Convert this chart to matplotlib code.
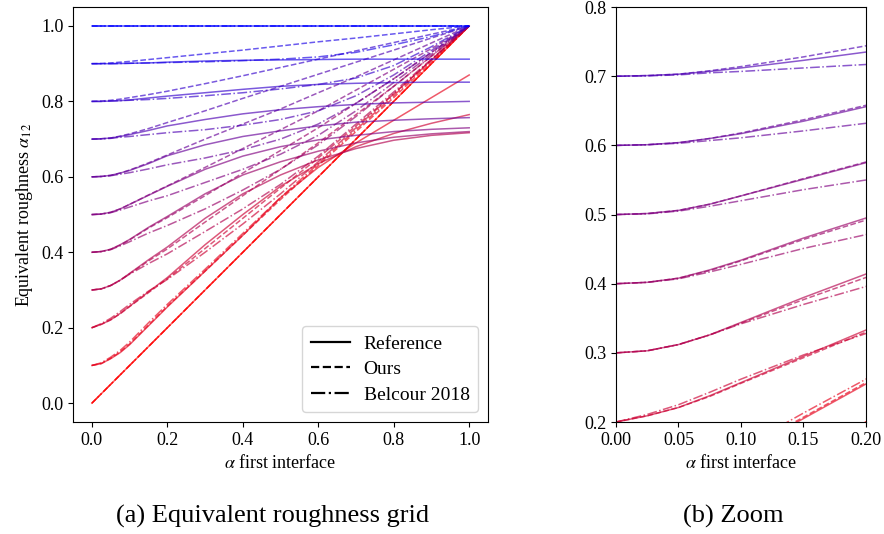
import matplotlib
matplotlib.use("Agg")
import matplotlib.pyplot as plt
import numpy as np

plt.rcParams['font.family'] = ['Liberation Serif', 'DejaVu Serif']
plt.rcParams['mathtext.fontset'] = 'stix'
plt.rcParams['font.size'] = 13

# roughness of the second interface (one curve per value)
alpha2 = [0.0, 0.1, 0.2, 0.3, 0.4, 0.5, 0.6, 0.7, 0.8, 0.9, 1.0]
# alpha of the first interface, where the curves were read
alpha1 = [0.0, 0.025, 0.05, 0.075, 0.1, 0.15, 0.2, 0.3, 0.4, 0.5, 0.6, 0.7, 0.8, 0.9, 1.0]

# Reference (solid)
reference = [
    [0.0, 0.025, 0.05, 0.075, 0.1, 0.15, 0.2, 0.3, 0.4, 0.5, 0.6, 0.7, 0.8, 0.9, 1.0],
    [0.1, 0.105, 0.118, 0.134, 0.155, 0.205, 0.255, 0.35, 0.445, 0.545, 0.625, 0.69, 0.75, 0.81, 0.87],
    [0.2, 0.209, 0.221, 0.238, 0.257, 0.295, 0.333, 0.42, 0.50, 0.575, 0.635, 0.68, 0.715, 0.742, 0.765],
    [0.3, 0.303, 0.312, 0.326, 0.344, 0.38, 0.414, 0.49, 0.555, 0.605, 0.645, 0.675, 0.697, 0.71, 0.717],
    [0.4, 0.402, 0.408, 0.42, 0.434, 0.466, 0.495, 0.555, 0.605, 0.64, 0.668, 0.69, 0.705, 0.714, 0.72],
    [0.5, 0.5015, 0.506, 0.515, 0.527, 0.551, 0.575, 0.62, 0.655, 0.68, 0.698, 0.71, 0.72, 0.726, 0.73],
    [0.6, 0.601, 0.604, 0.61, 0.617, 0.635, 0.656, 0.685, 0.707, 0.722, 0.735, 0.745, 0.75, 0.754, 0.757],
    [0.7, 0.701, 0.703, 0.707, 0.712, 0.723, 0.735, 0.752, 0.767, 0.778, 0.786, 0.792, 0.796, 0.798, 0.8],
    [0.8, 0.8, 0.801, 0.802, 0.804, 0.809, 0.814, 0.823, 0.832, 0.84, 0.845, 0.848, 0.85, 0.851, 0.851],
    [0.9, 0.9, 0.9, 0.9005, 0.901, 0.902, 0.904, 0.907, 0.909, 0.91, 0.911, 0.912, 0.912, 0.912, 0.912],
    [1.0, 1.0, 1.0, 1.0, 1.0, 1.0, 1.0, 1.0, 1.0, 1.0, 1.0, 1.0, 1.0, 1.0, 1.0],
]

# Ours (dashed)
ours = [
    [0.0, 0.025, 0.05, 0.075, 0.1, 0.15, 0.2, 0.3, 0.4, 0.5, 0.6, 0.7, 0.8, 0.9, 1.0],
    [0.1, 0.105, 0.119, 0.136, 0.157, 0.207, 0.257, 0.35, 0.445, 0.54, 0.63, 0.72, 0.81, 0.905, 1.0],
    [0.2, 0.209, 0.221, 0.237, 0.256, 0.293, 0.330, 0.41, 0.49, 0.57, 0.65, 0.735, 0.82, 0.91, 1.0],
    [0.3, 0.303, 0.312, 0.326, 0.343, 0.377, 0.409, 0.48, 0.55, 0.62, 0.69, 0.765, 0.84, 0.92, 1.0],
    [0.4, 0.402, 0.408, 0.419, 0.433, 0.464, 0.492, 0.55, 0.61, 0.67, 0.73, 0.795, 0.86, 0.93, 1.0],
    [0.5, 0.5015, 0.506, 0.515, 0.527, 0.552, 0.576, 0.625, 0.675, 0.725, 0.775, 0.83, 0.885, 0.94, 1.0],
    [0.6, 0.601, 0.604, 0.61, 0.618, 0.637, 0.658, 0.70, 0.74, 0.78, 0.823, 0.865, 0.91, 0.955, 1.0],
    [0.7, 0.701, 0.703, 0.708, 0.714, 0.728, 0.744, 0.775, 0.808, 0.84, 0.872, 0.904, 0.936, 0.968, 1.0],
    [0.8, 0.801, 0.803, 0.806, 0.81, 0.818, 0.827, 0.847, 0.868, 0.89, 0.912, 0.934, 0.956, 0.978, 1.0],
    [0.9, 0.9005, 0.902, 0.904, 0.906, 0.911, 0.916, 0.926, 0.936, 0.947, 0.958, 0.968, 0.979, 0.99, 1.0],
    [1.0, 1.0, 1.0, 1.0, 1.0, 1.0, 1.0, 1.0, 1.0, 1.0, 1.0, 1.0, 1.0, 1.0, 1.0],
]

# Belcour 2018 (dash-dot)
belcour = [
    [0.0, 0.025, 0.05, 0.075, 0.1, 0.15, 0.2, 0.3, 0.4, 0.5, 0.6, 0.7, 0.8, 0.9, 1.0],
    [0.1, 0.107, 0.122, 0.14, 0.162, 0.213, 0.262, 0.355, 0.45, 0.545, 0.635, 0.725, 0.815, 0.91, 1.0],
    [0.2, 0.211, 0.225, 0.243, 0.262, 0.297, 0.328, 0.40, 0.475, 0.555, 0.64, 0.73, 0.82, 0.91, 1.0],
    [0.3, 0.303, 0.312, 0.326, 0.342, 0.37, 0.396, 0.455, 0.515, 0.58, 0.655, 0.74, 0.825, 0.912, 1.0],
    [0.4, 0.402, 0.407, 0.417, 0.428, 0.451, 0.471, 0.515, 0.565, 0.62, 0.685, 0.76, 0.84, 0.92, 1.0],
    [0.5, 0.501, 0.505, 0.512, 0.52, 0.536, 0.55, 0.585, 0.62, 0.66, 0.71, 0.775, 0.85, 0.925, 1.0],
    [0.6, 0.601, 0.603, 0.607, 0.611, 0.621, 0.632, 0.65, 0.672, 0.70, 0.74, 0.795, 0.86, 0.93, 1.0],
    [0.7, 0.7005, 0.702, 0.705, 0.707, 0.712, 0.717, 0.725, 0.737, 0.752, 0.775, 0.815, 0.87, 0.935, 1.0],
    [0.8, 0.8, 0.801, 0.802, 0.803, 0.805, 0.808, 0.815, 0.823, 0.833, 0.845, 0.862, 0.895, 0.945, 1.0],
    [0.9, 0.9, 0.9, 0.9005, 0.901, 0.902, 0.903, 0.905, 0.908, 0.912, 0.918, 0.93, 0.95, 0.972, 1.0],
    [1.0, 1.0, 1.0, 1.0, 1.0, 1.0, 1.0, 1.0, 1.0, 1.0, 1.0, 1.0, 1.0, 1.0, 1.0],
]

fig = plt.figure(figsize=(8.84, 5.34), dpi=100)
ax1 = fig.add_axes([0.0826, 0.2097, 0.4695, 0.777])
ax2 = fig.add_axes([0.6968, 0.2097, 0.2828, 0.777])

for ax in (ax1, ax2):
    for i, a in enumerate(alpha2):
        c = (1 - a, 0.0, a)
        ax.plot(alpha1, reference[i], '-', color=c, alpha=0.65, lw=1.1)
        ax.plot(alpha1, ours[i], '--', color=c, alpha=0.65, lw=1.1)
        ax.plot(alpha1, belcour[i], '-.', color=c, alpha=0.65, lw=1.1)
    ax.set_xlabel(r'$\alpha$ first interface')

ax1.set_xticks([0.0, 0.2, 0.4, 0.6, 0.8, 1.0])
ax1.set_yticks([0.0, 0.2, 0.4, 0.6, 0.8, 1.0])
ax1.set_ylabel(r'Equivalent roughness $\alpha_{12}$')

ax2.set_xlim(0, 0.2)
ax2.set_ylim(0.2, 0.8)
ax2.set_xticks([0.0, 0.05, 0.1, 0.15, 0.2])

# legend with black handles
ax1.plot([], [], 'k-', label='Reference', lw=1.6)
ax1.plot([], [], 'k--', label='Ours', lw=1.6)
ax1.plot([], [], 'k-.', label='Belcour 2018', lw=1.6)
ax1.legend(loc='lower right', fontsize=14, handlelength=2.0, handletextpad=0.7,
           borderpad=0.45, labelspacing=0.4)

fig.text(0.308, 0.022, '(a) Equivalent roughness grid', ha='center', fontsize=19)
fig.text(0.829, 0.022, '(b) Zoom', ha='center', fontsize=19)

fig.savefig('out.png', dpi=100)
